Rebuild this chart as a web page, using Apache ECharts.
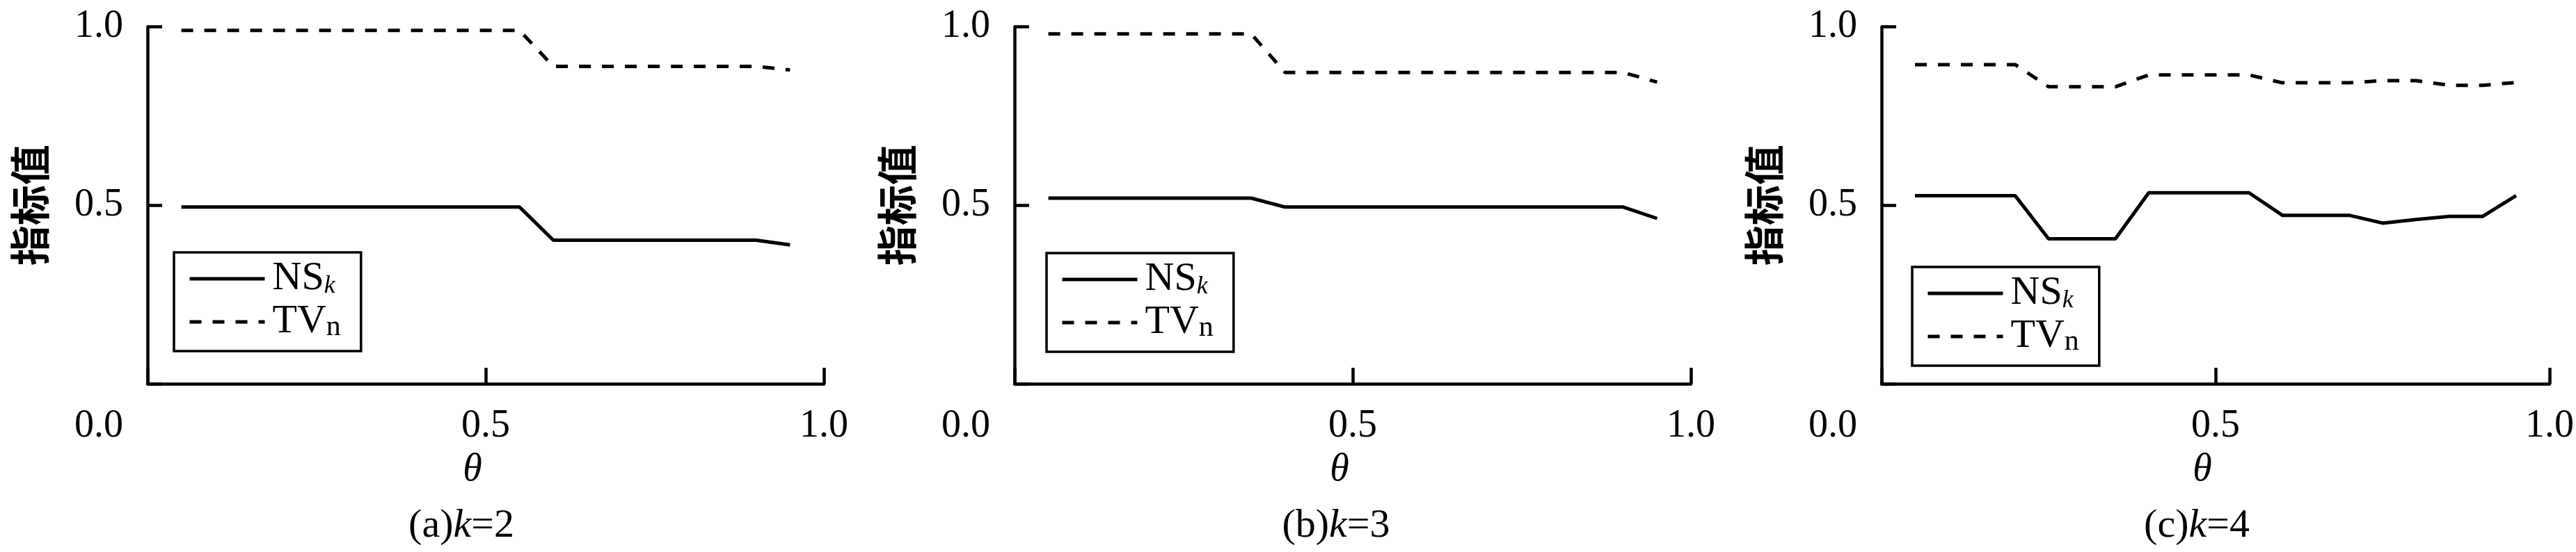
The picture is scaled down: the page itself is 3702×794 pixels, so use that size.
<!DOCTYPE html>
<html>
<head>
<meta charset="utf-8">
<script src="https://cdn.jsdelivr.net/npm/echarts@6/dist/echarts.min.js"></script>
<style>html,body{margin:0;padding:0;background:#fff;}#c{width:3702px;height:794px;}</style>
</head>
<body>
<div id="c"></div>
<script>
// θ values (x axis)
var theta = [0.05,0.10,0.15,0.20,0.25,0.30,0.35,0.40,0.45,0.50,0.55,0.60,0.65,0.70,0.75,0.80,0.85,0.90,0.95];
// (a) k=2
var nsA = [0.495,0.495,0.495,0.495,0.495,0.495,0.495,0.495,0.495,0.495,0.495,0.402,0.402,0.402,0.402,0.402,0.402,0.402,0.389];
var tvA = [0.990,0.990,0.990,0.990,0.990,0.990,0.990,0.990,0.990,0.990,0.990,0.889,0.889,0.889,0.889,0.889,0.889,0.889,0.879];
// (b) k=3
var nsB = [0.520,0.520,0.520,0.520,0.520,0.520,0.520,0.495,0.495,0.495,0.495,0.495,0.495,0.495,0.495,0.495,0.495,0.495,0.463];
var tvB = [0.980,0.980,0.980,0.980,0.980,0.980,0.980,0.872,0.872,0.872,0.872,0.872,0.872,0.872,0.872,0.872,0.872,0.872,0.845];
// (c) k=4
var nsC = [0.527,0.527,0.527,0.527,0.406,0.406,0.406,0.535,0.535,0.535,0.535,0.472,0.472,0.472,0.450,0.460,0.469,0.469,0.527];
var tvC = [0.894,0.894,0.894,0.894,0.832,0.832,0.832,0.865,0.865,0.865,0.865,0.843,0.843,0.843,0.849,0.849,0.836,0.836,0.844];
// tick labels
var xTicks = [0, 0.5, 1.0];
var yTicks = [0.5, 1.0];
var panelTitles = [['(a)','k','=2'], ['(b)','k','=3'], ['(c)','k','=4']];

var FONT = 'Liberation Serif';
var FS = 56;
var grids = [
  {left: 212, width: 972, top: 38.5, bottom: 242},
  {left: 1458, width: 972, top: 38.5, bottom: 242},
  {left: 2704, width: 968, top: 38.5, bottom: 242}
];
var legendPos = [[250, 363], [1504, 364], [2748, 384]];
var titleX = [663, 1920, 3157];
var dataSets = [[nsA, tvA], [nsB, tvB], [nsC, tvC]];

function pairs(xs, ys) { return xs.map(function (x, i) { return [x, ys[i]]; }); }

var option = {
  animation: false,
  backgroundColor: '#fff',
  grid: grids,
  xAxis: grids.map(function (g, i) {
    return {
      gridIndex: i, type: 'value', min: 0, max: 1, interval: 0.5,
      axisLine: {lineStyle: {color: '#000', width: 4.5}},
      axisTick: {inside: true, length: 23, lineStyle: {color: '#000', width: 4.5}},
      splitLine: {show: false},
      axisLabel: {
        margin: 33, color: '#000', fontFamily: FONT, fontSize: FS,
        formatter: function (v) {
          if (Math.abs(v) < 1e-9) return '{z|0.0}';
          return xTicks.indexOf(v) >= 0 ? v.toFixed(1) : '';
        },
        rich: {z: {fontFamily: FONT, fontSize: FS, color: '#000', padding: [0, 140, 0, 0]}}
      },
      name: 'θ', nameLocation: 'middle', nameGap: 96,
      nameTextStyle: {fontFamily: FONT, fontSize: FS, fontStyle: 'italic', color: '#000', padding: [0, 38, 0, 0]}
    };
  }),
  yAxis: grids.map(function (g, i) {
    return {
      gridIndex: i, type: 'value', min: 0, max: 1, interval: 0.5,
      axisLine: {lineStyle: {color: '#000', width: 4.5}},
      axisTick: {inside: true, length: 21, lineStyle: {color: '#000', width: 4.5}},
      splitLine: {show: false},
      axisLabel: {
        margin: 35, color: '#000', fontFamily: FONT, fontSize: FS,
        formatter: function (v) { return yTicks.indexOf(v) >= 0 ? v.toFixed(1) : ''; }
      },
      name: '指标值', nameLocation: 'middle', nameGap: 140, nameRotate: 90,
      nameTextStyle: {fontFamily: 'Noto Sans CJK SC', fontWeight: 'bold', fontSize: 58, color: '#000'}
    };
  }),
  legend: legendPos.map(function (p) {
    return {
      left: p[0], top: p[1], orient: 'vertical',
      data: ['NS', 'TV'],
      borderColor: '#000', borderWidth: 3.5, borderRadius: 0,
      padding: [9, 29, 13, 20],
      itemWidth: 108, itemHeight: 14, itemGap: 4,
      selectedMode: false,
      itemStyle: {opacity: 0},
      lineStyle: {width: 5, color: '#000'},
      formatter: function (n) { return n === 'NS' ? 'NS{k|k}' : 'TV{n|n}'; },
      textStyle: {
        fontFamily: FONT, fontSize: 58, color: '#000', lineHeight: 58, padding: [0, 0, 0, 6],
        rich: {
          k: {fontFamily: FONT, fontSize: 36, fontStyle: 'italic', color: '#000', verticalAlign: 'bottom', lineHeight: 36},
          n: {fontFamily: FONT, fontSize: 42, color: '#000', verticalAlign: 'bottom', lineHeight: 40}
        }
      }
    };
  }),
  title: panelTitles.map(function (t, i) {
    return {
      text: t[0] + '{i|' + t[1] + '}' + t[2],
      left: titleX[i], top: 728, textAlign: 'center', padding: 0,
      textStyle: {
        fontFamily: FONT, fontSize: 58, fontWeight: 'normal', color: '#000', lineHeight: 58,
        rich: {i: {fontFamily: FONT, fontSize: 58, fontStyle: 'italic', color: '#000', lineHeight: 58}}
      }
    };
  }),
  series: []
};

dataSets.forEach(function (d, i) {
  option.series.push({
    name: 'NS', type: 'line', xAxisIndex: i, yAxisIndex: i, symbol: 'none',
    data: pairs(theta, d[0]),
    lineStyle: {color: '#000', width: 5, type: 'solid'}, itemStyle: {color: '#000'}
  });
  option.series.push({
    name: 'TV', type: 'line', xAxisIndex: i, yAxisIndex: i, symbol: 'none',
    data: pairs(theta, d[1]),
    lineStyle: {color: '#000', width: 5, type: [17, 16]}, itemStyle: {color: '#000'}
  });
});

var chart = echarts.init(document.getElementById('c'), null, {renderer: 'canvas'});
chart.setOption(option);
</script>
</body>
</html>
